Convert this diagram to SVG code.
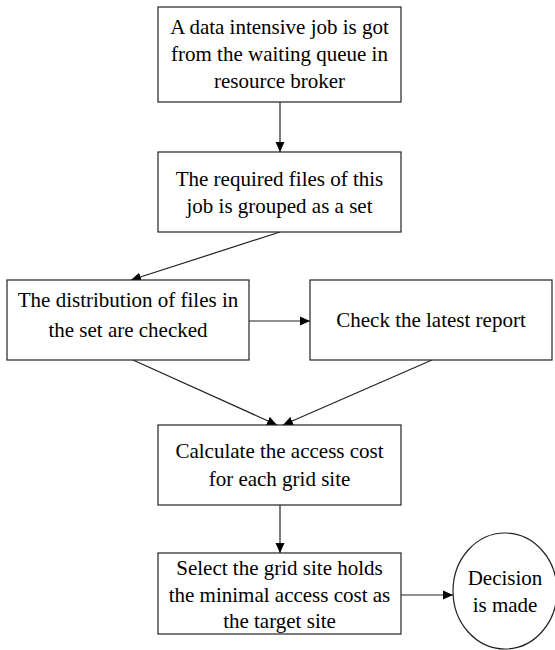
<svg xmlns="http://www.w3.org/2000/svg" width="555" height="650" viewBox="0 0 555 650">
<defs>
<style>
.box{fill:#fff;stroke:#222;stroke-width:1.2}
.t{font-family:"Liberation Serif","Times New Roman",serif;font-size:21px;fill:#000;text-anchor:middle}
.c{stroke:#222;stroke-width:1.2;fill:none;marker-end:url(#ah)}
</style>
<marker id="ah" viewBox="0 0 10 10" refX="10" refY="5" markerWidth="10" markerHeight="10" markerUnits="userSpaceOnUse" orient="auto">
<path d="M0,0.5 L10,5 L0,9.5 Z" fill="#000"/>
</marker>
</defs>
<rect width="555" height="650" fill="#fff"/>
<g id="connectors">
<line class="c" x1="280" y1="102" x2="280" y2="152"/>
<line class="c" x1="280" y1="232" x2="131" y2="280"/>
<line class="c" x1="249" y1="321" x2="310" y2="321"/>
<line class="c" x1="133" y1="360" x2="277" y2="425"/>
<line class="c" x1="432" y1="360" x2="283" y2="425"/>
<line class="c" x1="280" y1="505" x2="280" y2="553"/>
<line class="c" x1="401" y1="595" x2="453" y2="595"/>
</g>
<g id="n1">
<rect class="box" x="158" y="7" width="243" height="95"/>
<text class="t" x="279.5" y="34">A data intensive job is got</text>
<text class="t" x="279.5" y="61">from the waiting queue in</text>
<text class="t" x="279.5" y="88">resource broker</text>
</g>
<g id="n2">
<rect class="box" x="158" y="152" width="243" height="80"/>
<text class="t" x="279.5" y="186">The required files of this</text>
<text class="t" x="279.5" y="213">job is grouped as a set</text>
</g>
<g id="n3">
<rect class="box" x="7" y="280" width="242" height="80"/>
<text class="t" x="128" y="307">The distribution of files in</text>
<text class="t" x="128" y="337">the set are checked</text>
</g>
<g id="n4">
<rect class="box" x="310" y="280" width="242" height="80"/>
<text class="t" x="431" y="327">Check the latest report</text>
</g>
<g id="n5">
<rect class="box" x="158" y="425" width="243" height="80"/>
<text class="t" x="279.5" y="458">Calculate the access cost</text>
<text class="t" x="279.5" y="486">for each grid site</text>
</g>
<g id="n6">
<rect class="box" x="158" y="553" width="243" height="81"/>
<text class="t" x="279.5" y="575">Select the grid site holds</text>
<text class="t" x="279.5" y="602">the minimal access cost as</text>
<text class="t" x="279.5" y="628">the target site</text>
</g>
<g id="n7">
<ellipse class="box" cx="505" cy="591" rx="52" ry="58"/>
<text class="t" x="505" y="585">Decision</text>
<text class="t" x="505" y="612">is made</text>
</g>
</svg>
